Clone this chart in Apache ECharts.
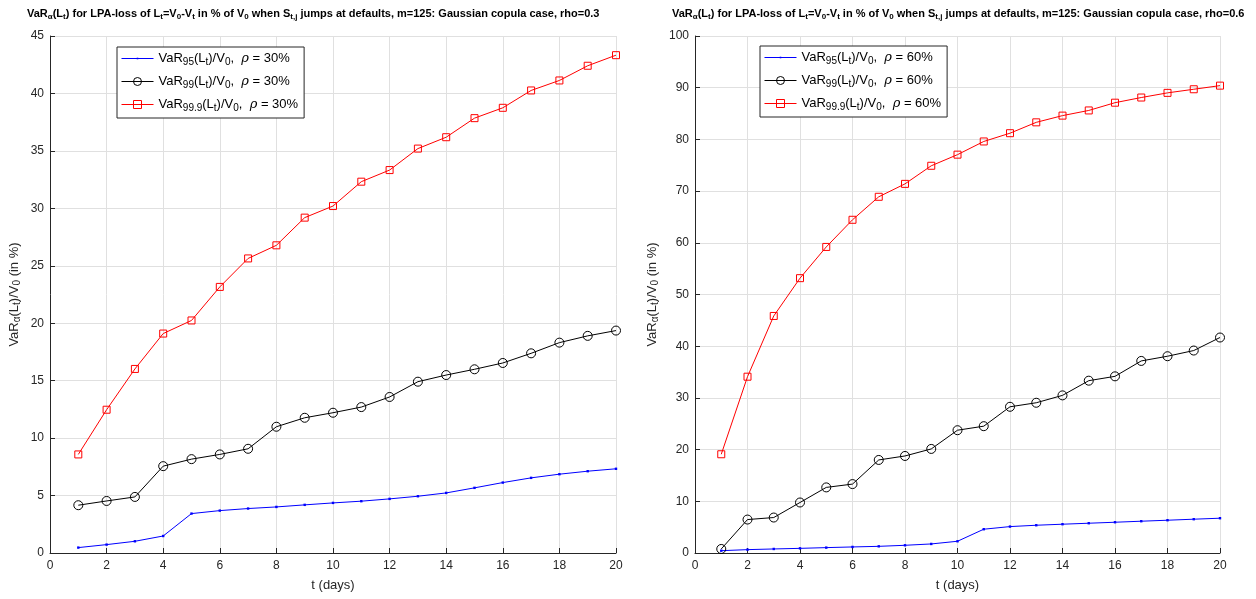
<!DOCTYPE html>
<html><head><meta charset="utf-8">
<script src="https://cdn.jsdelivr.net/npm/echarts@6/dist/echarts.min.js"></script>
<style>html,body{margin:0;padding:0;background:#fff}#c{width:1256px;height:599px}</style>
</head><body><div id="c"></div>
<script>
// ---- data ----
const days = [1,2,3,4,5,6,7,8,9,10,11,12,13,14,15,16,17,18,19,20];
const var95_rho30  = [0.47,0.73,1.02,1.48,3.43,3.69,3.87,4.01,4.19,4.36,4.51,4.71,4.94,5.23,5.67,6.13,6.54,6.86,7.12,7.33];
const var99_rho30  = [4.16,4.53,4.88,7.56,8.17,8.58,9.07,10.99,11.77,12.21,12.70,13.58,14.91,15.49,15.99,16.54,17.38,18.31,18.90,19.36];
const var999_rho30 = [8.58,12.47,16.02,19.10,20.24,23.16,25.64,26.78,29.19,30.20,32.32,33.33,35.20,36.19,37.85,38.75,40.26,41.13,42.41,43.33];
const var95_rho60  = [0.45,0.65,0.78,0.90,1.04,1.17,1.29,1.49,1.75,2.27,4.60,5.11,5.37,5.57,5.76,5.95,6.15,6.34,6.54,6.73];
const var99_rho60  = [0.78,6.47,6.86,9.77,12.69,13.33,18.00,18.77,20.13,23.75,24.53,28.28,29.06,30.49,33.33,34.17,37.15,38.06,39.16,41.68];
const var999_rho60 = [19.1,34.1,45.85,53.16,59.2,64.45,68.9,71.4,74.9,77.05,79.6,81.2,83.3,84.6,85.6,87.1,88.1,89.0,89.7,90.4];
const xTicks = {min:0, max:20, interval:2};
const yLeft = {min:0, max:45, interval:5};
const yRight = {min:0, max:100, interval:10};
const titleLeft = '{t|VaR}{s|α}{t|(L}{s|t}{t|) for LPA-loss of L}{s|t}{t|=V}{s|0}{t|-V}{s|t}{t| in % of V}{s|0}{t| when S}{s|t,j}{t| jumps at defaults, m=125: Gaussian copula case, rho=0.3}';
const titleRight = '{t|VaR}{s|α}{t|(L}{s|t}{t|) for LPA-loss of L}{s|t}{t|=V}{s|0}{t|-V}{s|t}{t| in % of V}{s|0}{t| when S}{s|t,j}{t| jumps at defaults, m=125: Gaussian copula case, rho=0.6}';
const yName = '{t|VaR}{s|α}{t|(L}{s|t}{t|)/V}{s|0}{t| (in %)}';
const legendLabels = {
  a95: '{t|VaR}{s|95}{t|(L}{s|t}{t|)/V}{s|0}{t|,  }{r|ρ}{t| = 30%}',
  a99: '{t|VaR}{s|99}{t|(L}{s|t}{t|)/V}{s|0}{t|,  }{r|ρ}{t| = 30%}',
  a999:'{t|VaR}{s|99.9}{t|(L}{s|t}{t|)/V}{s|0}{t|,  }{r|ρ}{t| = 30%}',
  b95: '{t|VaR}{s|95}{t|(L}{s|t}{t|)/V}{s|0}{t|,  }{r|ρ}{t| = 60%}',
  b99: '{t|VaR}{s|99}{t|(L}{s|t}{t|)/V}{s|0}{t|,  }{r|ρ}{t| = 60%}',
  b999:'{t|VaR}{s|99.9}{t|(L}{s|t}{t|)/V}{s|0}{t|,  }{r|ρ}{t| = 60%}'
};
// ---- build ----
const FF = '"Liberation Sans", Arial, Helvetica, sans-serif';
const AX = '#262626';
const DOT = 'path://M0,0M10,10M4,4L6,4L6,6L4,6Z';
const titleRich = {
  t:{fontSize:11, fontWeight:'bold', fontFamily:FF, color:'#000', lineHeight:14, verticalAlign:'middle'},
  s:{fontSize:8, fontWeight:'bold', fontFamily:FF, color:'#000', lineHeight:2, verticalAlign:'bottom'}
};
const nameRich = {
  t:{fontSize:13, fontFamily:FF, color:AX, lineHeight:16, verticalAlign:'middle'},
  s:{fontSize:10, fontFamily:FF, color:AX, lineHeight:4, verticalAlign:'bottom'}
};
const legRich = {
  t:{fontSize:13, fontFamily:FF, color:'#000', lineHeight:17, verticalAlign:'middle'},
  s:{fontSize:10, fontFamily:FF, color:'#000', lineHeight:5, verticalAlign:'bottom'},
  r:{fontSize:13, fontFamily:'"DejaVu Serif","Liberation Serif",serif', fontStyle:'italic', color:'#000', lineHeight:17, verticalAlign:'middle'}
};
function mkX(gi){
  return {gridIndex:gi, type:'value', min:xTicks.min, max:xTicks.max, interval:xTicks.interval,
    axisLine:{lineStyle:{color:AX, width:1}}, axisTick:{inside:true, length:5, lineStyle:{color:AX}},
    splitLine:{show:true, lineStyle:{color:'#e0e0e0', width:1}},
    axisLabel:{color:AX, fontSize:12, fontFamily:FF, margin:7},
    name:'t (days)', nameLocation:'middle', nameGap:26, nameTextStyle:{color:AX, fontSize:13, fontFamily:FF}};
}
function mkY(gi, r, gap){
  return {gridIndex:gi, type:'value', min:r.min, max:r.max, interval:r.interval,
    axisLine:{show:true, lineStyle:{color:AX, width:1}}, axisTick:{show:true, inside:true, length:5, lineStyle:{color:AX}},
    splitLine:{show:true, lineStyle:{color:'#e0e0e0', width:1}},
    axisLabel:{color:AX, fontSize:12, fontFamily:FF, margin:6},
    name:yName, nameLocation:'middle', nameRotate:90, nameGap:gap, nameTextStyle:{rich:nameRich}};
}
function pts(a){ return days.map((d,i)=>[d,a[i]]); }
function s95(name, a, gi){
  return {name, type:'line', xAxisIndex:gi, yAxisIndex:gi, data:pts(a), symbol:DOT, symbolSize:12,
    lineStyle:{color:'#0000ff', width:1}, itemStyle:{color:'#0000ff'}, animation:false};
}
function s99(name, a, gi){
  return {name, type:'line', xAxisIndex:gi, yAxisIndex:gi, data:pts(a), symbol:'circle', symbolSize:9,
    lineStyle:{color:'#000', width:1}, itemStyle:{color:'rgba(0,0,0,0)', borderColor:'#000', borderWidth:1}, animation:false};
}
function s999(name, a, gi){
  return {name, type:'line', xAxisIndex:gi, yAxisIndex:gi, data:pts(a), symbol:'rect', symbolSize:7,
    lineStyle:{color:'#ff0000', width:1}, itemStyle:{color:'rgba(0,0,0,0)', borderColor:'#ff0000', borderWidth:1}, animation:false};
}
function mkLegend(data, left, top){
  return {data, left, top, orient:'vertical', backgroundColor:'#fff', borderColor:AX, borderWidth:1,
    padding:[5,6,5,4], itemGap:8, itemWidth:32, itemHeight:10,
    lineStyle:{width:1}, itemStyle:{borderWidth:1},
    formatter:n=>legendLabels[n], textStyle:{rich:legRich}};
}
const chart = echarts.init(document.getElementById('c'), null, {renderer:'canvas'});
chart.setOption({
  animation:false,
  backgroundColor:'#fff',
  title:[
    {text:titleLeft, left:22, top:2, textStyle:{rich:titleRich}},
    {text:titleRight, left:667, top:2, textStyle:{rich:titleRich}}
  ],
  legend:[mkLegend(['a95','a99','a999'],117,47), mkLegend(['b95','b99','b999'],760,46)],
  grid:[{left:50, right:640, top:36, bottom:46}, {left:695, right:36, top:36, bottom:46}],
  xAxis:[mkX(0), mkX(1)],
  yAxis:[mkY(0, yLeft, 28), mkY(1, yRight, 35)],
  series:[
    s95('a95', var95_rho30, 0), s99('a99', var99_rho30, 0), s999('a999', var999_rho30, 0),
    s95('b95', var95_rho60, 1), s99('b99', var99_rho60, 1), s999('b999', var999_rho60, 1)
  ]
});
</script></body></html>
